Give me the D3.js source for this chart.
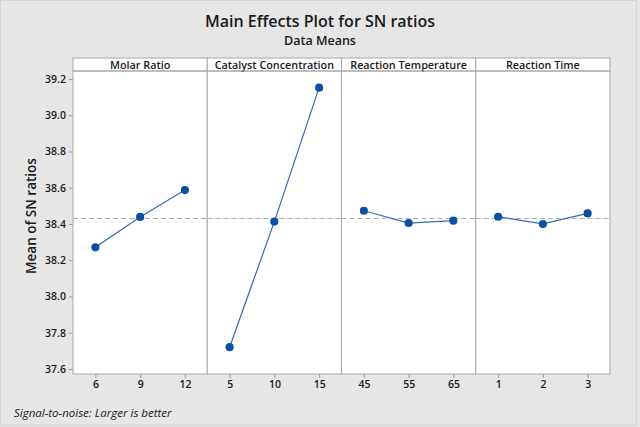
<!DOCTYPE html>
<html>
<head>
<meta charset="utf-8">
<script src="https://cdn.jsdelivr.net/npm/d3@7"></script>
<style>
  body { margin: 0; background: #e6e6e6; }
  text { font-family: "Open Sans", "Noto Sans", sans-serif; fill: #1a1a1a; }
</style>
</head>
<body>
<script>
// factors shown as panels, with their levels and SN-ratio means
var factors = ["Molar Ratio", "Catalyst Concentration", "Reaction Temperature", "Reaction Time"];
var levels = [["6", "9", "12"], ["5", "10", "15"], ["45", "55", "65"], ["1", "2", "3"]];
var snMeans = [
    [38.271, 38.439, 38.587],
    [37.720, 38.413, 39.152],
    [38.473, 38.405, 38.418],
    [38.440, 38.400, 38.458]
];
var overallMean = 38.43;
var yTicks = [37.6, 37.8, 38.0, 38.2, 38.4, 38.6, 38.8, 39.0, 39.2];

var width = 640, height = 427;
var plotLeft = 73, plotRight = 610, plotTop = 71, plotBottom = 374, stripH = 13;
var panelW = (plotRight - plotLeft) / factors.length;

var svg = d3.select('body').append('svg')
    .attr('width', width)
    .attr('height', height);

svg.append('rect')
    .attr('x', 0.5).attr('y', 0.5)
    .attr('width', 636).attr('height', 425)
    .attr('fill', '#e6e6e6')
    .attr('stroke', '#d4d4d4');

svg.append('text')
    .attr('x', 320).attr('y', 27)
    .attr('text-anchor', 'middle')
    .style('font-size', '16px')
    .style('font-weight', '600')
    .text('Main Effects Plot for SN ratios');

svg.append('text')
    .attr('x', 320).attr('y', 45)
    .attr('text-anchor', 'middle')
    .style('font-size', '12.5px')
    .style('font-weight', '600')
    .text('Data Means');

var y = d3.scaleLinear()
    .domain([37.572, 39.244])
    .range([plotBottom, plotTop]);

// y axis
var yAxis = svg.append('g')
    .attr('transform', 'translate(' + plotLeft + ',0)')
    .call(d3.axisLeft(y).tickValues(yTicks).tickFormat(d3.format('.1f')).tickSize(4).tickPadding(3));
yAxis.select('.domain').remove();
yAxis.selectAll('line').attr('stroke', '#999');
yAxis.selectAll('text').style('font-size', '10.5px').style('font-weight', '600').style('fill', '#1a1a1a');

svg.append('text')
    .attr('transform', 'translate(36,216) rotate(-90)')
    .attr('text-anchor', 'middle')
    .style('font-size', '13.5px')
    .style('font-weight', '600')
    .text('Mean of SN ratios');

// panels
factors.forEach(function (name, i) {
    var x0 = plotLeft + i * panelW;
    var g = svg.append('g').attr('transform', 'translate(' + x0 + ',0)');

    g.append('rect')
        .attr('x', 0).attr('y', plotTop)
        .attr('width', panelW).attr('height', plotBottom - plotTop)
        .attr('fill', 'white');

    g.append('rect')
        .attr('x', 0).attr('y', plotTop - stripH)
        .attr('width', panelW).attr('height', stripH)
        .attr('fill', 'white')
        .attr('stroke', '#a8a8a8');

    g.append('text')
        .attr('x', panelW / 2).attr('y', plotTop - 2.5)
        .attr('text-anchor', 'middle')
        .style('font-size', '10.8px')
        .style('font-weight', '600')
        .text(name);

    var x = d3.scalePoint()
        .domain(levels[i])
        .range([0, panelW])
        .padding(0.5);

    var xAxis = g.append('g')
        .attr('transform', 'translate(0,' + plotBottom + ')')
        .call(d3.axisBottom(x).tickSize(4).tickPadding(3));
    xAxis.select('.domain').remove();
    xAxis.selectAll('line').attr('stroke', '#999');
    xAxis.selectAll('text').style('font-size', '10.5px').style('font-weight', '600').style('fill', '#1a1a1a');

    g.append('line')
        .attr('x1', 0).attr('x2', panelW)
        .attr('y1', y(overallMean)).attr('y2', y(overallMean))
        .attr('stroke', '#aaa')
        .attr('stroke-dasharray', '5,3');

    var pts = levels[i].map(function (l, j) { return { level: l, value: snMeans[i][j] }; });

    g.append('path')
        .datum(pts)
        .attr('fill', 'none')
        .attr('stroke', '#2f6db5')
        .attr('stroke-width', 1.2)
        .attr('d', d3.line()
            .x(function (d) { return x(d.level); })
            .y(function (d) { return y(d.value); }));

    g.selectAll('path.dot')
        .data(pts)
        .enter()
        .append('path')
        .attr('class', 'dot')
        .attr('d', d3.symbol().type(d3.symbolCircle).size(52))
        .attr('transform', function (d) { return 'translate(' + x(d.level) + ',' + y(d.value) + ')'; })
        .attr('fill', '#0a4fa0');

    g.append('rect')
        .attr('x', 0).attr('y', plotTop)
        .attr('width', panelW).attr('height', plotBottom - plotTop)
        .attr('fill', 'none')
        .attr('stroke', '#a8a8a8');
});

svg.append('text')
    .attr('x', 14).attr('y', 417)
    .style('font-size', '11.5px')
    .style('font-style', 'italic')
    .text('Signal-to-noise: Larger is better');
</script>
</body>
</html>
